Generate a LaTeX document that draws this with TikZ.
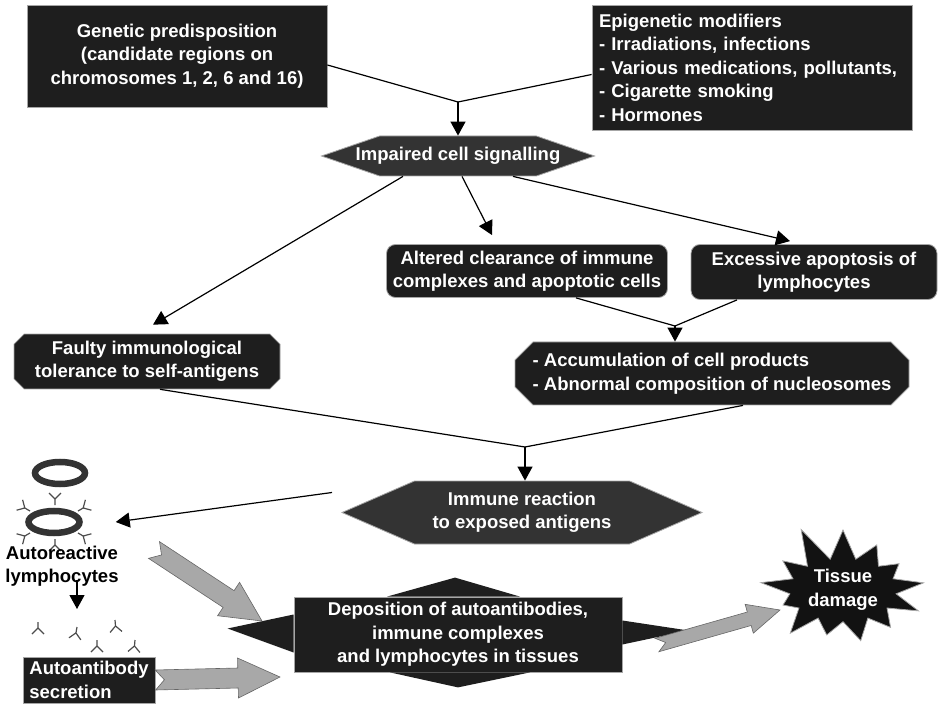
\documentclass[tikz,border=0pt]{standalone}
\usepackage{fontspec}
\setmainfont{Liberation Sans}
\usetikzlibrary{arrows.meta,shapes.misc,shapes.symbols,shapes.geometric,calc}

\definecolor{boxfill}{HTML}{1E1E1E}
\definecolor{hexfill}{HTML}{333333}
\definecolor{arrowgray}{HTML}{A8A8A8}

% wide gray arrow with notched tail: tail, tip, shaft half width, head half width, head length
\newcommand{\fatarrow}[5]{%
  \coordinate (fa-h) at ($(#2)!#5!(#1)$);
  \draw[grayshaft] ($(#1)!#3!90:(#2)$) -- ($(fa-h)!#3!90:(#2)$) -- ($(fa-h)!#4!90:(#2)$) -- (#2)
    -- ($(fa-h)!#4!-90:(#2)$) -- ($(fa-h)!#3!-90:(#2)$) -- ($(#1)!#3!-90:(#2)$) -- ($(#1)!9pt!(#2)$) -- cycle;
}

\begin{document}
\begin{tikzpicture}[x=1pt, y=-1pt,
    every node/.style={font=\fontsize{18.5}{23.5}\selectfont\bfseries, text=white, inner sep=2pt},
    darkbox/.style={rectangle, fill=boxfill, draw=gray!70, line width=0.8pt},
    roundbox/.style={darkbox, rounded corners=9pt},
    cutbox/.style={chamfered rectangle, fill=boxfill, draw=gray!70, line width=0.8pt},
    hexbox/.style={signal, signal to=east and west, fill=hexfill, draw=gray!70, line width=0.8pt},
    arrow/.style={line width=1.2pt, -{Triangle[width=15pt,length=14pt]}},
    link/.style={line width=1.2pt},
    grayshaft/.style={fill=arrowgray, draw=gray!80!black, line width=0.6pt},
    cellring/.style={ellipse, draw=hexfill, fill=white, line width=6.5pt},
    antibody/.pic={\draw[gray!60!black, line width=1.2pt] (0,0) -- (0,-6) -- (-6,-12) (0,-6) -- (6,-12);}]
  \useasboundingbox (0,0) rectangle (945,708);

  %––––– causes –––––
  \node (gen) at (177,56) [darkbox, minimum width=300pt, minimum height=102pt, align=center]
    {Genetic predisposition\\(candidate regions on\\chromosomes 1, 2, 6 and 16)};
  \node (epi) at (752,67.5) [darkbox, minimum width=320pt, minimum height=125pt, text width=306pt, align=left]
    {Epigenetic modifiers\\- Irradiations, infections\\- Various medications, pollutants,\\- Cigarette smoking\\- Hormones};
  \coordinate (j1) at (458,102);
  \draw[link] ([yshift=-9pt]gen.east) -- (j1);
  \draw[link] ([yshift=-7pt]epi.west) -- (j1);

  %––––– signalling –––––
  \node (imp) at (458,156) [hexbox, signal pointer angle=38, inner xsep=-26pt, minimum width=273pt, minimum height=40pt] {Impaired cell signalling};
  \draw[arrow] (j1) -- (imp.north);

  \node (alt) at (527,271) [roundbox, minimum width=281pt, minimum height=53pt, align=center]
    {Altered clearance of immune\\complexes and apoptotic cells};
  \node (exc) at (814,272) [roundbox, minimum width=246pt, minimum height=55pt, align=center]
    {Excessive apoptosis of\\lymphocytes};
  \node (fau) at (147,361.5) [cutbox, chamfered rectangle xsep=5pt, chamfered rectangle ysep=5pt, minimum width=266pt, minimum height=47pt, align=center]
    {Faulty immunological\\tolerance to self-antigens};
  \draw[arrow] ([xshift=-55pt]imp.south) -- ([xshift=6pt,yshift=9pt]fau.north);
  \draw[arrow] ([xshift=4pt]imp.south) -- ([xshift=-35pt,yshift=9pt]alt.north);
  \draw[arrow] ([xshift=55pt]imp.south) -- ([xshift=-24pt,yshift=3pt]exc.north);

  %––––– cell products –––––
  \node (acc) at (712,373.5) [cutbox, chamfered rectangle xsep=9pt, chamfered rectangle ysep=9pt, minimum width=394pt, minimum height=63pt, align=left]
    {- Accumulation of cell products\\- Abnormal composition of nucleosomes};
  \coordinate (j2) at (675,326);
  \draw[link] ([xshift=49pt]alt.south) -- (j2);
  \draw[link] ([xshift=-77pt]exc.south) -- (j2);
  \draw[arrow] (j2) -- (j2 |- acc.north);

  %––––– immune reaction –––––
  \node (imm) at (522,512.5) [hexbox, signal pointer angle=47, minimum width=360pt, minimum height=63pt, align=center]
    {Immune reaction\\to exposed antigens};
  \coordinate (j3) at (525,447);
  \draw[link] ([xshift=13pt]fau.south) -- (j3);
  \draw[link] ([xshift=31pt]acc.south) -- (j3);
  \draw[arrow] (j3) -- (j3 |- imm.north);

  %––––– lymphocytes –––––
  \node (cell1) at (60,473) [cellring, minimum width=50pt, minimum height=22pt] {};
  \node (cell2) at (54,522) [cellring, minimum width=51pt, minimum height=22pt] {};
  \foreach \px/\py/\rot in {55/505/0, 30/511/60, 78/511/-60, 30/533/120, 78/533/-120, 55/539/180}
    \pic[rotate=\rot] at (\px,\py) {antibody};
  \draw[arrow] ([xshift=-9pt,yshift=20pt]imm.west) -- ([xshift=33pt]cell2.east);
  \node (autolab) at (62,566) [text=black, align=center, inner sep=0pt] {Autoreactive\\lymphocytes};
  \coordinate (abtop) at (77,609);
  \draw[arrow] ([xshift=15pt,yshift=7pt]autolab.south) -- (abtop);
  \foreach \px/\py/\rot in {38/622/180, 77/627/170, 115/620/185, 97/640/180, 135/640/175}
    \pic[rotate=\rot] at (\px,\py) {antibody};
  \node (sec) at (89,680) [darkbox, minimum width=132pt, minimum height=46pt, align=left, inner sep=1pt] {Autoantibody\\secretion};

  %––––– deposition and damage –––––
  \node (dep) at (458,634.5) [darkbox, minimum width=328pt, minimum height=75pt, align=center]
    {Deposition of autoantibodies,\\immune complexes\\and lymphocytes in tissues};
  \fill[boxfill] ([xshift=-71pt]dep.north) -- ([xshift=-3pt,yshift=19pt]dep.north) -- ([xshift=62pt]dep.north) -- cycle;
  \fill[boxfill] ([xshift=-68pt]dep.south) -- ([xshift=0pt,yshift=-15pt]dep.south) -- ([xshift=72pt]dep.south) -- cycle;
  \fill[boxfill] ([yshift=20pt]dep.west) -- ([xshift=-66pt,yshift=6pt]dep.west) -- ([yshift=-18pt]dep.west) -- cycle;
  \fill[boxfill] ([yshift=14pt]dep.east) -- ([xshift=66pt,yshift=4pt]dep.east) -- ([yshift=-10pt]dep.east) -- cycle;

  \node (tis) at (843,590) [starburst, starburst points=13, starburst point height=38pt, random starburst=11,
    fill=black!93, draw=gray!70, line width=0.8pt, minimum width=183pt, minimum height=94pt, align=center] {Tissue\\damage};

  \coordinate (g1s) at (154,550);
  \coordinate (g1e) at (262,621);
  \fatarrow{g1s}{g1e}{10pt}{20pt}{40pt}
  \coordinate (g2e) at (280,677);
  \fatarrow{sec.east}{g2e}{10pt}{20pt}{42pt}
  \coordinate (g3s) at (657,645);
  \coordinate (g3e) at (780,610);
  \fatarrow{g3s}{g3e}{7pt}{15pt}{32pt}
\end{tikzpicture}
\end{document}
